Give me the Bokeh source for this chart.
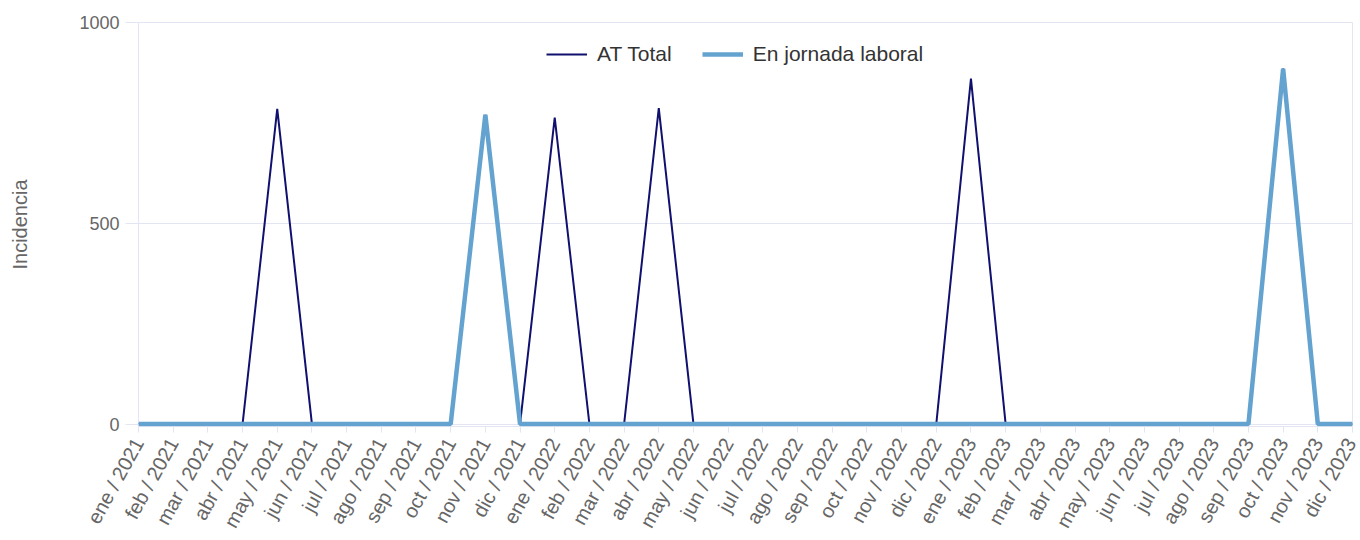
import math
from bokeh.plotting import figure
from bokeh.models import FixedTicker, Range1d, Legend, LegendItem
from bokeh.embed import file_html
from bokeh.resources import INLINE

months = ["ene", "feb", "mar", "abr", "may", "jun", "jul", "ago", "sep", "oct", "nov", "dic"]
years = [2021, 2022, 2023]
categories = [f"{m} / {y}" for y in years for m in months]

at_total = [0, 0, 0, 0, 785, 0, 0, 0, 0, 0, 770, 0,
            763, 0, 0, 787, 0, 0, 0, 0, 0, 0, 0, 0,
            860, 0, 0, 0, 0, 0, 0, 0, 0, 885, 0, 0]
en_jornada = [0, 0, 0, 0, 0, 0, 0, 0, 0, 0, 770, 0,
              0, 0, 0, 0, 0, 0, 0, 0, 0, 0, 0, 0,
              0, 0, 0, 0, 0, 0, 0, 0, 0, 885, 0, 0]
y_ticks = [0, 500, 1000]

xs = list(range(len(categories)))

FONT = "Liberation Sans"
GRID = "#e3e5f3"

p = figure(width=1360, height=540, output_backend="svg", toolbar_location=None,
           x_range=Range1d(0, len(categories) - 1), y_range=Range1d(-6, 1000),
           min_border_left=138, min_border_right=8, min_border_top=22, min_border_bottom=114)

p.outline_line_color = GRID
p.outline_line_width = 1
p.background_fill_color = "white"
p.border_fill_color = "white"

r1 = p.line(xs, at_total, line_color="#10106e", line_width=2)
r2 = p.line(xs, en_jornada, line_color="#64a3d0", line_width=4.5)

# x axis
xa = p.xaxis[0]
xa.ticker = FixedTicker(ticks=xs)
xa.major_label_overrides = {i: c for i, c in enumerate(categories)}
xa.major_label_orientation = math.radians(61)
xa.major_label_text_font = FONT
xa.major_label_text_font_size = "20px"
xa.major_label_text_color = "#666666"
xa.axis_line_color = None
xa.major_tick_line_color = GRID
xa.major_tick_in = 0
xa.major_tick_out = 6
xa.minor_tick_line_color = None
xa.major_label_standoff = 7

# y axis
ya = p.yaxis[0]
ya.ticker = FixedTicker(ticks=y_ticks)
ya.axis_label = "Incidencia"
ya.axis_label_text_font = FONT
ya.axis_label_text_font_size = "20px"
ya.axis_label_text_font_style = "normal"
ya.axis_label_text_color = "#666666"
ya.axis_label_standoff = 45
ya.major_label_text_font = FONT
ya.major_label_text_font_size = "18px"
ya.major_label_text_color = "#666666"
ya.axis_line_color = None
ya.major_tick_line_color = GRID
ya.major_tick_in = 0
ya.major_tick_out = 13
ya.minor_tick_line_color = None
ya.major_label_standoff = 6

p.xgrid.grid_line_color = None
p.ygrid.grid_line_color = GRID
p.ygrid.ticker = FixedTicker(ticks=y_ticks)

legend = Legend(items=[LegendItem(label="AT Total", renderers=[r1]),
                       LegendItem(label="En jornada laboral", renderers=[r2])],
                orientation="horizontal", location=(408, 360))
legend.border_line_color = None
legend.background_fill_alpha = 0
legend.label_text_font = FONT
legend.label_text_font_size = "21px"
legend.label_text_color = "#333333"
legend.glyph_width = 41
legend.glyph_height = 20
legend.spacing = 30
legend.margin = 0
legend.padding = 4
legend.label_standoff = 10
p.add_layout(legend, "center")

html = file_html(p, INLINE)
open("out.html", "w").write(html)
